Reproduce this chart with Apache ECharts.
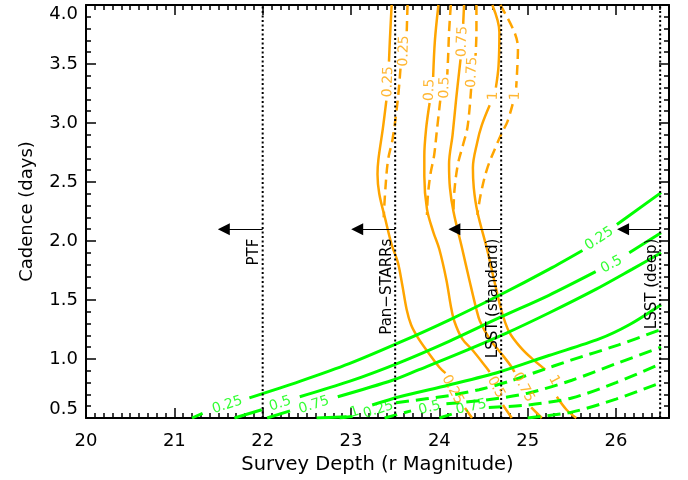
<!DOCTYPE html>
<html><head><meta charset="utf-8">
<script src="https://cdn.jsdelivr.net/npm/echarts@6/dist/echarts.min.js"></script>
<style>html,body{margin:0;padding:0;background:#fff}#c{width:688px;height:480px}</style>
</head><body><div id="c"></div>
<script>
// ---------- data ----------
// orange contours (solid / dashed), null = gap where a contour label sits
const orangeSolid025 = [[23.46,4.00],[23.44,3.70],[23.43,3.52],null,[23.40,3.19],[23.36,2.95],[23.31,2.69],[23.30,2.565],[23.32,2.40],[23.39,2.18],[23.46,1.97],[23.53,1.82],[23.58,1.63],[23.63,1.42],[23.68,1.29],[23.75,1.19],[23.85,1.08],[24.00,0.93],[24.07,0.88],null,[24.29,0.585],[24.37,0.50]];
const orangeSolid05  = [[23.99,4.00],[23.95,3.70],[23.93,3.39],null,[23.89,3.17],[23.85,2.95],[23.83,2.72],[23.83,2.55],[23.86,2.27],[23.93,2.08],[24.00,1.93],[24.08,1.67],[24.13,1.45],[24.17,1.32],[24.26,1.17],[24.37,1.08],[24.53,0.93],[24.57,0.89],null,[24.72,0.61],[24.82,0.50]];
const orangeSolid075 = [[24.28,4.00],[24.27,3.84],null,[24.24,3.54],[24.19,3.20],[24.15,2.90],[24.11,2.65],[24.12,2.45],[24.16,2.25],[24.26,1.93],[24.34,1.67],[24.42,1.42],[24.46,1.32],[24.57,1.17],[24.73,1.02],[24.82,0.93],[24.85,0.89],null,[25.04,0.59],[25.16,0.50]];
const orangeSolid1   = [[24.60,4.00],[24.68,3.77],[24.67,3.48],[24.64,3.30],null,[24.57,3.15],[24.48,2.98],[24.43,2.84],[24.38,2.62],[24.39,2.45],[24.43,2.25],[24.54,1.93],[24.62,1.67],[24.70,1.42],[24.79,1.23],[24.93,1.09],[25.07,0.99],[25.20,0.91],null,[25.33,0.68],[25.44,0.57],[25.55,0.50]];
const orangeDashed025 = [[23.64,4.00],[23.63,3.75],null,[23.56,3.46],[23.53,3.20],[23.47,2.86],[23.42,2.69],[23.39,2.45],[23.37,2.20]];
const orangeDashed05  = [[24.13,4.00],[24.11,3.77],[24.10,3.57],[24.09,3.41],null,[24.01,3.19],[23.97,2.92],[23.94,2.72],[23.90,2.57],[23.87,2.38],[23.86,2.22]];
const orangeDashed075 = [[24.42,4.00],[24.42,3.77],[24.41,3.57],null,[24.36,3.29],[24.32,2.97],[24.27,2.82],[24.21,2.65],[24.17,2.42],[24.16,2.22]];
const orangeDashed1   = [[24.69,4.00],[24.85,3.77],[24.89,3.63],[24.88,3.43],[24.87,3.30],null,[24.83,3.16],[24.77,3.01],[24.71,2.92],[24.64,2.80],[24.54,2.61],[24.47,2.40],[24.43,2.22]];

// green contours
const greenSolid025 = [[21.20,0.50],[21.32,0.54],null,[21.85,0.67],[22.42,0.81],[22.98,0.96],[23.55,1.14],[24.11,1.33],[24.68,1.54],[25.24,1.76],[25.62,1.92],null,[26.01,2.14],[26.51,2.41]];
const greenSolid05  = [[21.68,0.50],[21.99,0.57],null,[22.42,0.68],[22.98,0.81],[23.55,0.97],[24.11,1.15],[24.68,1.35],[25.24,1.54],[25.77,1.74],null,[26.15,1.90],[26.51,2.07]];
const greenSolid075 = [[22.05,0.50],[22.31,0.56],null,[22.85,0.68],[23.47,0.82],[23.77,0.91],[24.23,1.05],[24.76,1.22],[25.24,1.39],[25.77,1.59],[26.18,1.76],[26.51,1.90]];
const greenSolid1   = [[22.61,0.50],[22.95,0.51],null,[23.24,0.61],[23.55,0.68],[24.11,0.78],[24.68,0.89],[25.24,1.03],[25.81,1.17],[26.15,1.29],[26.51,1.46]];
const greenDashed025 = [[22.87,0.50],[23.10,0.52],null,[23.51,0.63],[24.11,0.69],[24.45,0.74],[24.79,0.81],[25.10,0.89],[25.49,0.99],[26.03,1.12],[26.51,1.25]];
const greenDashed05  = [[23.38,0.50],[23.68,0.56],null,[24.08,0.62],[24.50,0.65],[25.00,0.71],[25.50,0.82],[26.00,0.96],[26.51,1.10]];
const greenDashed075 = [[24.00,0.50],[24.17,0.54],null,[24.56,0.59],[25.00,0.61],[25.50,0.67],[26.00,0.80],[26.51,0.96]];
const greenDashed1   = [[25.00,0.50],[25.50,0.55],[26.00,0.66],[26.51,0.80]];

// contour labels: [x, y, text]
const orangeLabels = [[23.42,3.35,'0.25'],[23.60,3.61,'0.25'],[23.89,3.28,'0.5'],[24.06,3.30,'0.5'],[24.26,3.69,'0.75'],[24.37,3.43,'0.75'],[24.61,3.23,'1'],[24.86,3.23,'1'],
                      [24.15,0.74,'0.25'],[24.64,0.76,'0.5'],[24.95,0.76,'0.75'],[25.30,0.82,'1']];
const orangeLabelAngle = [88,88,88,88,88,88,88,88,-62,-62,-62,-62];
const greenLabels = [[21.60,0.61,'0.25'],[22.20,0.62,'0.5'],[22.58,0.61,'0.75'],[23.04,0.55,'1'],[23.31,0.57,'0.25'],[23.89,0.585,'0.5'],[24.36,0.593,'0.75'],[25.81,2.02,'0.25'],[25.95,1.80,'0.5']];
const greenLabelAngle = [18,18,18,18,18,15,12,33,28];

// survey limits
const surveyNames = ['PTF','Pan\u2212STARRs','LSST (standard)','LSST (deep)'];
const surveyDepths = [22.0, 23.5, 24.7, 26.5];
const arrowHeads = [21.56, 23.07, 24.17, 26.08];
const arrowCadence = 2.1;
const surveyLabelTop = 2.02;

const xTickValues = [20,21,22,23,24,25,26];
const yTickLabels = ['0.5','1.0','1.5','2.0','2.5','3.0','3.5','4.0'];

// ---------- chart ----------
const ORANGE = '#FFA500', GREEN = '#00FF00';
const FONT = 'DejaVu Sans';
const gap = d => d.map(p => p === null ? ['-','-'] : p);

function contour(data, color, dashed) {
  const isG = color === GREEN;
  return {
    type: 'line', data: gap(data), symbol: 'none', showSymbol: false, connectNulls: false,
    smooth: isG ? 0.3 : 0.35, silent: true, z: isG ? 3 : 2,
    lineStyle: { color, width: isG ? 3 : 2.5, type: dashed ? (isG ? [13, 7] : [10, 6]) : 'solid' }
  };
}
function labels(list, angles, color) {
  return {
    type: 'scatter', silent: true, z: 6, symbolSize: 1,
    itemStyle: { color: 'rgba(0,0,0,0)' },
    label: { show: true, position: 'inside', color, fontSize: 14, fontFamily: FONT },
    data: list.map((d, i) => ({ value: [d[0], d[1]], label: { formatter: d[2], rotate: angles[i] } }))
  };
}

const series = [
  contour(orangeSolid025, ORANGE, false), contour(orangeSolid05, ORANGE, false),
  contour(orangeSolid075, ORANGE, false), contour(orangeSolid1, ORANGE, false),
  contour(orangeDashed025, ORANGE, true), contour(orangeDashed05, ORANGE, true),
  contour(orangeDashed075, ORANGE, true), contour(orangeDashed1, ORANGE, true),
  contour(greenSolid025, GREEN, false), contour(greenSolid05, GREEN, false),
  contour(greenSolid075, GREEN, false), contour(greenSolid1, GREEN, false),
  contour(greenDashed025, GREEN, true), contour(greenDashed05, GREEN, true),
  contour(greenDashed075, GREEN, true), contour(greenDashed1, GREEN, true),
  labels(orangeLabels, orangeLabelAngle, ORANGE),
  labels(greenLabels, greenLabelAngle, GREEN)
];
surveyDepths.forEach(d => series.push({
  type: 'line', data: [[d, 0.5], [d, 4.0]], symbol: 'none', silent: true, z: 4,
  lineStyle: { color: '#000', width: 2, type: [2, 2.5] }
}));
series.push({
  type: 'lines', coordinateSystem: 'cartesian2d', silent: true, z: 5,
  symbol: ['none', 'triangle'], symbolSize: 12,
  lineStyle: { color: '#000', width: 1, opacity: 1 },
  data: surveyDepths.map((d, i) => ({ coords: [[d, arrowCadence], [arrowHeads[i], arrowCadence]] }))
});

const axLine = { show: true, onZero: false, lineStyle: { color: '#000', width: 2 } };
const xBase = { type: 'value', min: 20, max: 26.6, splitLine: { show: false } };
const yBase = { type: 'value', min: 0.5, max: 4.0, interval: 0.5, splitLine: { show: false } };

const option = {
  animation: false,
  backgroundColor: '#fff',
  grid: { left: 86, right: 19, top: 5, bottom: 62, containLabel: false },
  xAxis: [
    Object.assign({}, xBase, {
      position: 'bottom', interval: 1, axisLine: axLine,
      axisTick: { inside: true, length: 10, lineStyle: { color: '#000', width: 1.5 } },
      axisLabel: { color: '#000', fontSize: 18, fontFamily: FONT, margin: 14, showMaxLabel: false,
        formatter: v => xTickValues.indexOf(v) >= 0 ? String(v) : '' },
      name: 'Survey Depth (r Magnitude)', nameLocation: 'middle', nameGap: 36,
      nameTextStyle: { color: '#000', fontSize: 19.5, fontFamily: FONT }
    }),
    Object.assign({}, xBase, {
      position: 'bottom', interval: 0.1, axisLine: { show: false },
      axisTick: { inside: true, length: 5, lineStyle: { color: '#000', width: 1.5 } },
      axisLabel: { show: false }
    }),
    Object.assign({}, xBase, {
      position: 'top', interval: 1, axisLine: axLine,
      axisTick: { inside: true, length: 10, lineStyle: { color: '#000', width: 1.5 } },
      axisLabel: { show: false }
    }),
    Object.assign({}, xBase, {
      position: 'top', interval: 0.1, axisLine: { show: false },
      axisTick: { inside: true, length: 5, lineStyle: { color: '#000', width: 1.5 } },
      axisLabel: { show: false }
    })
  ],
  yAxis: [
    Object.assign({}, yBase, {
      position: 'left', axisLine: axLine,
      axisTick: { inside: true, length: 10, lineStyle: { color: '#000', width: 1.5 } },
      minorTick: { show: true, splitNumber: 5, length: 5, lineStyle: { color: '#000', width: 1.5 } },
      axisLabel: { color: '#000', fontSize: 18, fontFamily: FONT, margin: 8,
        verticalAlignMaxLabel: 'top', verticalAlignMinLabel: 'bottom',
        formatter: v => yTickLabels[Math.round((v - 0.5) / 0.5)] },
      name: 'Cadence (days)', nameLocation: 'middle', nameGap: 50,
      nameTextStyle: { color: '#000', fontSize: 18, fontFamily: FONT }
    }),
    Object.assign({}, yBase, {
      position: 'right', axisLine: axLine,
      axisTick: { inside: true, length: 10, lineStyle: { color: '#000', width: 1.5 } },
      minorTick: { show: true, splitNumber: 5, length: 5, lineStyle: { color: '#000', width: 1.5 } },
      axisLabel: { show: false }
    })
  ],
  series
};

const chart = echarts.init(document.getElementById('c'));
chart.setOption(option);
const g = surveyNames.map((name, i) => {
  const p = chart.convertToPixel({ xAxisIndex: 0, yAxisIndex: 0 }, [surveyDepths[i], surveyLabelTop]);
  return {
    type: 'text', x: p[0] - 1, y: p[1], rotation: Math.PI / 2, z: 20, silent: true,
    style: { text: name, font: '15px "DejaVu Sans"', fill: '#000',
      align: 'right', verticalAlign: 'bottom', textAlign: 'right', textVerticalAlign: 'bottom' }
  };
});
chart.setOption({ graphic: g });
</script>
</body></html>
